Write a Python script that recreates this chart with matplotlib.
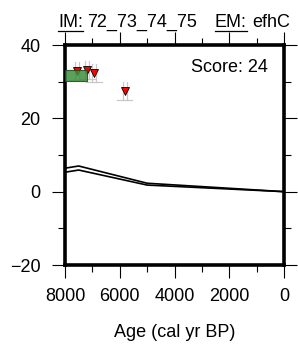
import numpy as np
import matplotlib
matplotlib.use('Agg')
import matplotlib.pyplot as plt
from matplotlib.patches import Rectangle
from matplotlib.lines import Line2D

plt.rcParams['font.family'] = ['Liberation Sans', 'DejaVu Sans']

# observed sea-level index points (age, rsl)
obs_age = [7570, 7190, 6940, 5820]
obs_rsl = [32.9, 33.2, 32.4, 27.4]
obs_age_err = [280, 280, 280, 280]
obs_rsl_err = [2.5, 2.5, 2.5, 2.5]

# green box (age range, rsl range)
box_age = [8000, 7190]
box_rsl = [30.2, 33.2]

# model curves
model_age = [8000, 7500, 5000, 0]
model_upper = [6.4, 7.0, 2.3, 0.0]
model_lower = [5.3, 5.9, 1.8, 0.0]

W, H = 298, 345
fig = plt.figure(figsize=(W / 100, H / 100), dpi=100)
ax = fig.add_axes([65 / W, 1 - 265 / H, 219 / W, 220 / H])

ax.plot(model_age, model_upper, color='black', lw=1.2, zorder=3)
ax.plot(model_age, model_lower, color='black', lw=1.2, zorder=3)

# grey error crosses
for a, r, ea, er in zip(obs_age, obs_rsl, obs_age_err, obs_rsl_err):
    for dx in (-70, 70):
        ax.plot([a + dx, a + dx], [r - er, r + er], color='#c8c8c8', lw=0.9, zorder=2)
    ax.plot([a - ea, a + ea], [r - er, r - er], color='#c8c8c8', lw=0.9, zorder=2)

ax.plot(obs_age, obs_rsl, linestyle='none', marker='v', markersize=6.3,
        markerfacecolor='red', markeredgecolor='black', markeredgewidth=0.6, zorder=4)

ax.add_patch(Rectangle((box_age[1], box_rsl[0]), box_age[0] - box_age[1],
                       box_rsl[1] - box_rsl[0], facecolor='#3f8f3f',
                       edgecolor='#1c4a1c', lw=0.8, alpha=0.85, zorder=5))

ax.set_xlim(8000, 0)
ax.set_ylim(-20, 40)
ax.set_xticks([8000, 6000, 4000, 2000, 0])
ax.set_xticks([7000, 5000, 3000, 1000], minor=True)
ax.set_yticks([-20, 0, 20, 40])
ax.set_yticks([-10, 10, 30], minor=True)
ax.set_yticklabels(['\u221220', '0', '20', '40'])

for s in ax.spines.values():
    s.set_linewidth(2.6)
ax.tick_params(which='both', direction='out', top=True, right=True, width=0.8, labelsize=13)
ax.tick_params(which='major', length=9.5, pad=7)
ax.tick_params(which='minor', length=5)
ax.tick_params(axis='y', which='major', pad=8)

ax.text(0.927, 0.879, 'Score: 24', transform=ax.transAxes, ha='right', va='baseline', fontsize=13)

fig.text(175 / W, 1 - 337 / H, 'Age (cal yr BP)', ha='center', va='baseline', fontsize=13)

# title with underlined parts
base_y = 1 - 27 / H
parts = [('IM:', 58, True), ('72_73_74_75', 87, False), ('EM:', 215, True), ('efhC', 252, False)]
fig.canvas.draw()
renderer = fig.canvas.get_renderer()
for txt, xp, under in parts:
    t = fig.text(xp / W, base_y, txt, ha='left', va='baseline', fontsize=13)
    if under:
        bb = t.get_window_extent(renderer)
        uy = (H - 31) / H
        fig.add_artist(Line2D([bb.x0 / W, bb.x1 / W], [uy, uy], color='black', lw=0.9,
                              transform=fig.transFigure))

fig.savefig('out.png', dpi=100)
